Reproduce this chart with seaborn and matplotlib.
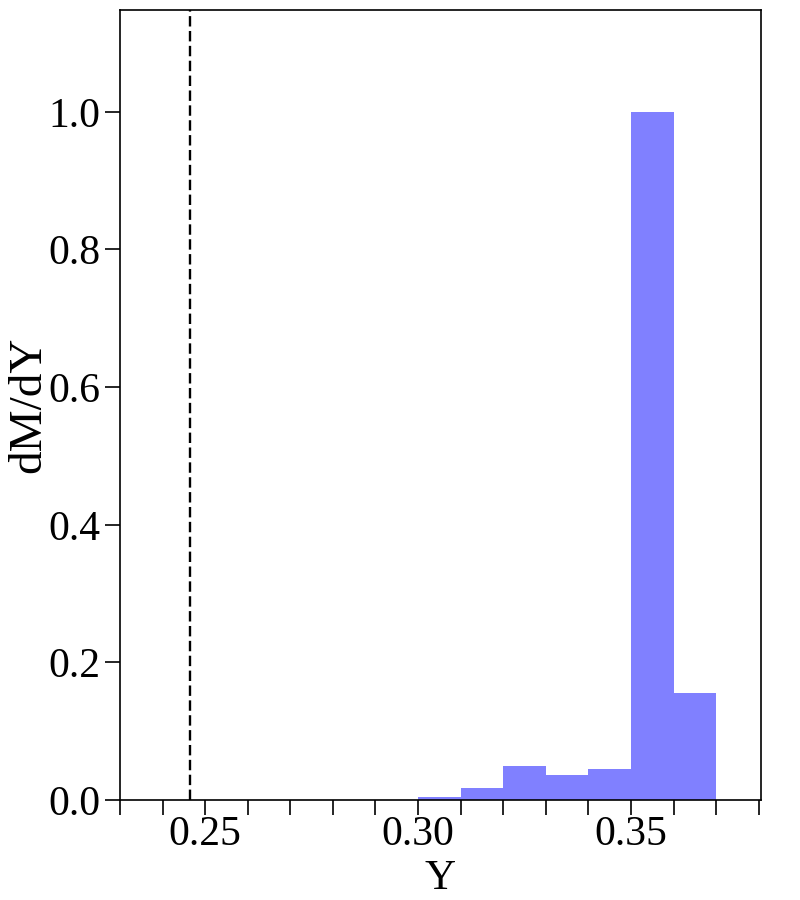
import numpy as np
import matplotlib
matplotlib.use("Agg")
import matplotlib.pyplot as plt
import seaborn as sns
from matplotlib.ticker import MultipleLocator

# --- data ---
bin_edges = [0.30, 0.31, 0.32, 0.33, 0.34, 0.35, 0.36, 0.37]
bin_heights = [0.0045, 0.018, 0.049, 0.036, 0.0455, 1.0, 0.156]
y_ref = 0.2465  # dashed reference line
bin_centers = [(a + b) / 2 for a, b in zip(bin_edges[:-1], bin_edges[1:])]

sns.set_theme(style="ticks")
plt.rcParams['font.family'] = ['Liberation Serif', 'DejaVu Serif']
plt.rcParams['text.color'] = 'black'
plt.rcParams['axes.labelcolor'] = 'black'

fig = plt.figure(figsize=(8, 9), dpi=100)
ax = fig.add_axes([0.15, 0.111, 0.801, 0.878])

sns.histplot(x=bin_centers, weights=bin_heights, bins=bin_edges,
             color='#8080ff', alpha=1.0, linewidth=0, ax=ax)
ax.axvline(y_ref, color='black', linestyle='--', linewidth=1.7,
           dashes=(4.4, 1.9))

ax.set_xlim(0.23, 0.3805)
ax.set_ylim(0, 1.148)
ax.set_xticks([0.25, 0.30, 0.35])
ax.set_xticklabels(['0.25', '0.30', '0.35'])
ax.xaxis.set_minor_locator(MultipleLocator(0.01))
ax.set_yticks([0.0, 0.2, 0.4, 0.6, 0.8, 1.0])
ax.set_yticklabels(['0.0', '0.2', '0.4', '0.6', '0.8', '1.0'])

ax.tick_params(axis='both', which='both', direction='out', length=11, width=1.2,
               labelsize=30, colors='black')
ax.tick_params(axis='x', which='major', pad=0)
ax.tick_params(axis='y', which='major', pad=3)
for s in ax.spines.values():
    s.set_visible(True)
    s.set_linewidth(1.2)
    s.set_color('black')

ax.set_xlabel('Y', fontsize=31, labelpad=4)
ax.set_ylabel('dM/dY', fontsize=34, labelpad=-1)

fig.savefig('out.png', dpi=100)
